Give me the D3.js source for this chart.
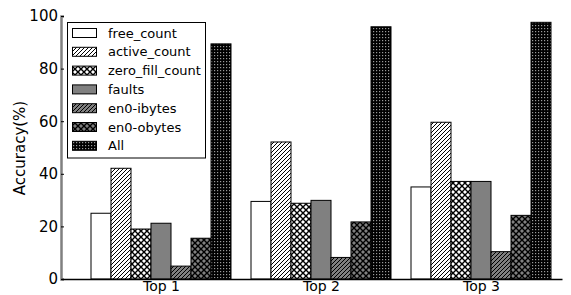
<!DOCTYPE html>
<html><head><meta charset="utf-8">
<script src="https://cdn.jsdelivr.net/npm/d3@7"></script>
<style>body{margin:0;background:#fff}svg{display:block}</style>
</head><body>
<svg id="c" width="571" height="295"></svg>
<script>
const categories = ["Top 1", "Top 2", "Top 3"];
const seriesNames = ["free_count", "active_count", "zero_fill_count", "faults", "en0-ibytes", "en0-obytes", "All"];
const freeCount = [25.0, 29.5, 35.0];
const activeCount = [42.1, 52.1, 59.6];
const zeroFillCount = [19.0, 28.8, 37.1];
const faults = [21.2, 29.9, 37.1];
const en0Ibytes = [4.9, 8.2, 10.4];
const en0Obytes = [15.5, 21.7, 24.2];
const allVals = [89.4, 95.9, 97.6];
const yTicks = [0, 20, 40, 60, 80, 100];
const seriesValues = [freeCount, activeCount, zeroFillCount, faults, en0Ibytes, en0Obytes, allVals];

const svg = d3.select("#c");
const defs = svg.append("defs");
const grey = "#808080";
function diag(id, bg){
  const p = defs.append("pattern").attr("id", id).attr("patternUnits","userSpaceOnUse").attr("width",4).attr("height",4);
  p.append("rect").attr("width",4).attr("height",4).attr("fill",bg);
  p.append("path").attr("d","M-1,1 L1,-1 M0,4 L4,0 M3,5 L5,3").attr("stroke","#000").attr("stroke-width",1);
}
function cross(id, bg){
  const p = defs.append("pattern").attr("id", id).attr("patternUnits","userSpaceOnUse").attr("width",6).attr("height",6);
  p.append("rect").attr("width",6).attr("height",6).attr("fill",bg);
  p.append("path").attr("d","M0,0 L6,6 M6,0 L0,6").attr("stroke","#000").attr("stroke-width",1.4);
}
function grid(id){
  const p = defs.append("pattern").attr("id", id).attr("patternUnits","userSpaceOnUse").attr("width",3).attr("height",3);
  p.append("rect").attr("width",3).attr("height",3).attr("fill","#000");
  p.append("rect").attr("x",1).attr("y",1).attr("width",1.2).attr("height",1.2).attr("fill","#9a9a9a");
}
diag("diagW","#fff"); cross("crossW","#fff"); diag("diagG",grey); cross("crossG",grey); grid("gridP");
const fills = ["#fff","url(#diagW)","url(#crossW)",grey,"url(#diagG)","url(#crossG)","url(#gridP)"];

const barW = 0.125;
const x = d3.scaleLinear().domain([-0.1875, 2.94375]).range([61, 562]);
const y = d3.scaleLinear().domain([0, 100]).range([279, 16]);

// bars
seriesValues.forEach((vals, s) => {
  svg.append("g").selectAll("rect").data(vals).join("rect")
    .attr("x", (d,i) => x(i + s*barW))
    .attr("width", x(barW) - x(0))
    .attr("y", d => y(d))
    .attr("height", d => y(0) - y(d))
    .attr("fill", fills[s])
    .attr("stroke", "#000").attr("stroke-width", 1);
});

// y axis
const ya = svg.append("g").attr("transform","translate(61,0)")
  .call(d3.axisLeft(y).tickValues(yTicks).tickSize(-3).tickPadding(3));
ya.select(".domain").attr("stroke", grey).attr("stroke-width", 2.5);
ya.selectAll("text").attr("font-family","DejaVu Sans").attr("font-size","15px").attr("fill","#000");

// x axis
const xa = svg.append("g").attr("transform","translate(0,279)")
  .call(d3.axisBottom(x).tickValues([0,1,2].map(i => i + 3.5*barW)).tickFormat((d,i)=>categories[i]).tickSize(0).tickPadding(2.5));
xa.select(".domain").attr("stroke","#000").attr("stroke-width",1.5);
xa.selectAll("text").attr("font-family","DejaVu Sans").attr("font-size","14px").attr("fill","#000");

svg.append("text").attr("transform","translate(20,148) rotate(-90)")
  .attr("text-anchor","middle").attr("dy","0.36em").attr("font-family","DejaVu Sans").attr("font-size","15px").text("Accuracy(%)");

// legend
const lg = svg.append("g");
lg.append("rect").attr("x",67.5).attr("y",22.5).attr("width",138).attr("height",135.5)
  .attr("fill","#fff").attr("stroke","#000").attr("stroke-width",1);
seriesNames.forEach((n, s) => {
  const cy = 33 + s*18.8;
  lg.append("rect").attr("x",72.5).attr("y",cy-4.5).attr("width",24).attr("height",9)
    .attr("fill",fills[s]).attr("stroke","#000").attr("stroke-width",1);
  lg.append("text").attr("x",108).attr("y",cy).attr("dy","0.36em")
    .attr("font-family","DejaVu Sans").attr("font-size","13px").text(n);
});
</script>
</body></html>
